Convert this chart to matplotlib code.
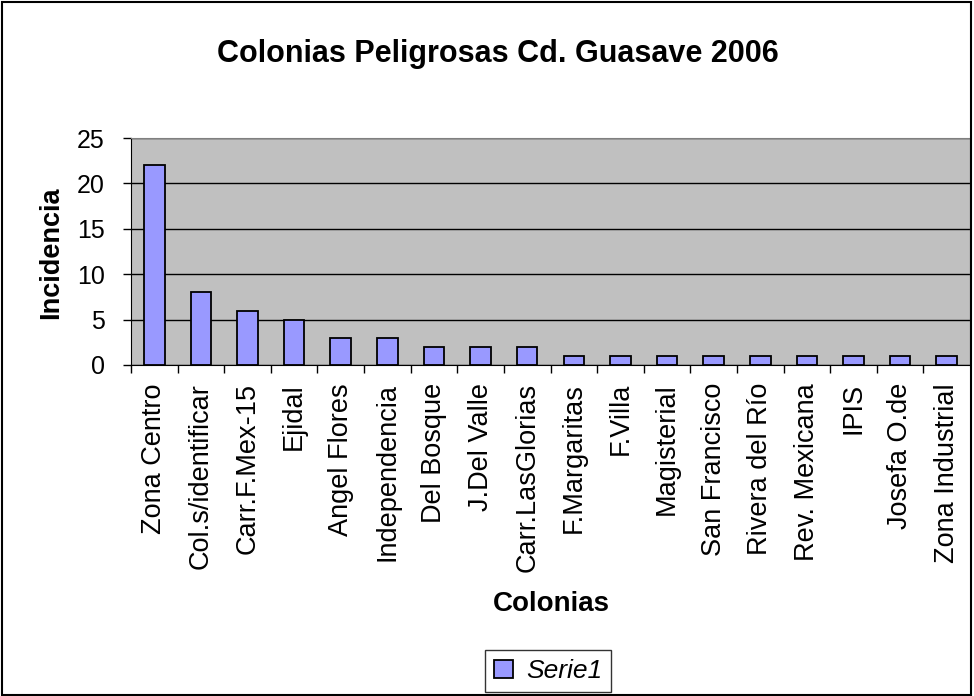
import matplotlib
matplotlib.use("Agg")
import matplotlib.pyplot as plt
from matplotlib.patches import Rectangle

plt.rcParams['font.family'] = ['Liberation Sans', 'DejaVu Sans']

colonias = ["Zona Centro", "Col.s/identificar", "Carr.F.Mex-15", "Ejidal",
            "Angel Flores", "Independencia", "Del Bosque", "J.Del Valle",
            "Carr.LasGlorias", "F.Margaritas", "F.Villa", "Magisterial",
            "San Francisco", "Rivera del Río", "Rev. Mexicana", "IPIS",
            "Josefa O.de", "Zona Industrial"]
incidencia = [22, 8, 6, 5, 3, 3, 2, 2, 2, 1, 1, 1, 1, 1, 1, 1, 1, 1]
y_ticks = [0, 5, 10, 15, 20, 25]

fig = plt.figure(figsize=(9.74, 6.96), dpi=100)
ax = fig.add_axes([131/974, 1 - 365/696, 839/974, 227/696])
ax.set_facecolor("#C0C0C0")

x = list(range(len(colonias)))
ax.bar(x, incidencia, width=0.44, color="#9999FF", edgecolor="black",
       linewidth=1.3, zorder=3, label="Serie1")

ax.set_xlim(-0.5, len(colonias) - 0.5)
ax.set_ylim(0, 25)
ax.set_yticks(y_ticks)
ax.yaxis.grid(True, color="black", linewidth=1, zorder=1)
ax.set_axisbelow(True)

# category boundaries get the tick marks, names sit in between
ax.set_xticks([i + 0.5 for i in x[:-1]] + [-0.5])
ax.set_xticklabels([])
ax.set_xticks(x, minor=True)
ax.set_xticklabels(colonias, minor=True, rotation=90, fontsize=19.5)
ax.tick_params(axis="x", which="minor", length=0, pad=13)
ax.tick_params(axis="x", which="major", length=6, width=1, direction="out")
ax.tick_params(axis="y", labelsize=18, length=6, width=1, pad=13)

for s in ["top", "right"]:
    ax.spines[s].set_color("#808080")
for s in ["left", "bottom"]:
    ax.spines[s].set_color("black")

fig.text(498/974, 1 - 54/696, "Colonias Peligrosas Cd. Guasave 2006",
         ha="center", va="center", fontsize=22, fontweight="bold")
fig.text(51/974, 1 - 253/696, "Incidencia", rotation=90, ha="center",
         va="center", fontsize=19.5, fontweight="bold")
fig.text(551/974, 1 - 604/696, "Colonias", ha="center", va="center",
         fontsize=20, fontweight="bold")

leg = fig.legend(loc="center", bbox_to_anchor=(548/974, 1 - 671/696),
                 frameon=True, fancybox=False, handlelength=0.7,
                 handleheight=0.7, handletextpad=0.5, borderpad=0.35,
                 prop={"style": "italic", "size": 19})
leg.get_frame().set_edgecolor("black")
leg.get_frame().set_linewidth(1)

fig.patches.append(Rectangle((0.002, 0.002), 0.995, 0.995, transform=fig.transFigure,
                             fill=False, edgecolor="black", linewidth=1.5))

fig.savefig("out.png", dpi=100, facecolor="white")
